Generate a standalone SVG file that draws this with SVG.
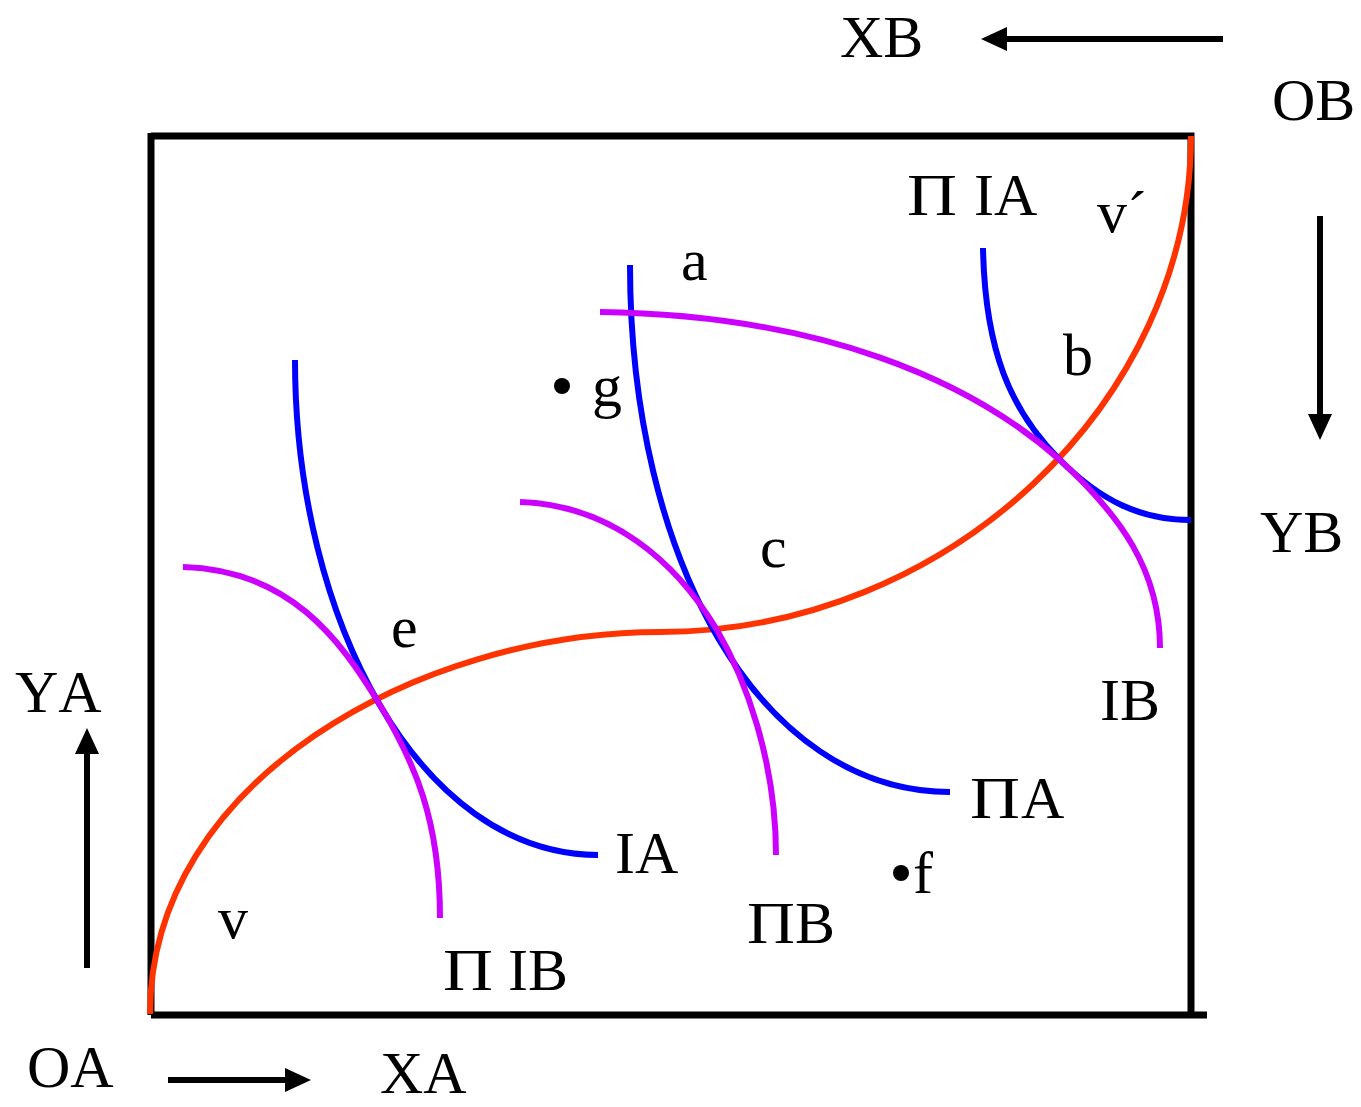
<svg xmlns="http://www.w3.org/2000/svg" width="1361" height="1107" viewBox="0 0 1361 1107">
<style>
.t{font-family:"Liberation Serif","Times New Roman",serif;font-size:60px;fill:#000;font-kerning:none}
.box{stroke:#000;stroke-width:7;fill:none}
.ax{stroke:#000;stroke-width:6;fill:none}
.red{stroke:#FF3300;stroke-width:6;fill:none}
.blue{stroke:#0000FF;stroke-width:6;fill:none}
.pur{stroke:#CC00FF;stroke-width:6;fill:none}
</style>
<defs>
<marker id="ah" markerUnits="userSpaceOnUse" markerWidth="26" markerHeight="24" refX="1" refY="12" orient="auto">
<path d="M0,0 L26,12 L0,24 z" fill="#000"/>
</marker>
</defs>
<g id="box">
<path class="box" d="M151,136 H1191 V1015 M151,133 V1015 M151,1015 H1207"/>
</g>
<g id="connectors">
<path class="ax" d="M1223,39 H1006" marker-end="url(#ah)"/>
<path class="ax" d="M1320,216 V415" marker-end="url(#ah)"/>
<path class="ax" d="M87,968 V753" marker-end="url(#ah)"/>
<path class="ax" d="M168,1080 H286" marker-end="url(#ah)"/>
</g>
<g id="contract-curve">
<path class="red" d="M150,1014 C150,780 420,632 660,632 C950,632 1191,400 1191,136"/>
</g>
<g id="curve-IA"><path class="blue" d="M295,360 C295,620 420,855 598,855"/></g>
<g id="curve-PiA"><path class="blue" d="M630,265 C630,560 760,792 950,792"/></g>
<g id="curve-PiIA"><path class="blue" d="M983,248 C985,350 1010,410 1060,460 C1100,500 1140,520 1191,520"/></g>
<g id="curve-IB"><path class="pur" d="M600,312 C820,315 970,380 1060,460 C1120,515 1160,570 1160,648"/></g>
<g id="curve-PiB"><path class="pur" d="M520,502 C610,505 675,560 717,630 C745,678 776,760 776,855"/></g>
<g id="curve-PiIB"><path class="pur" d="M183,567 C290,570 340,640 377,700 C415,762 440,820 440,918"/></g>
<g id="point-g"><circle cx="562" cy="386" r="8" fill="#000"/><text class="t" x="592" y="406">g</text></g>
<g id="point-f"><circle cx="901" cy="873" r="8" fill="#000"/><text class="t" x="913" y="893">f</text></g>
<g id="labels">
<text class="t" x="840" y="57">XB</text>
<text class="t" x="1272" y="120">OB</text>
<g id="label-PiIA"><text class="t" x="907" y="215" textLength="50" lengthAdjust="spacingAndGlyphs">Π</text><text class="t" x="974" y="215">IA</text></g>
<text class="t" x="1097" y="232">v´</text>
<text class="t" x="681" y="280">a</text>
<text class="t" x="1063" y="375">b</text>
<text class="t" x="760" y="567">c</text>
<text class="t" x="391" y="647">e</text>
<text class="t" x="1260" y="552">YB</text>
<text class="t" x="1100" y="720">IB</text>
<text class="t" x="15" y="712">YA</text>
<g id="label-PiA"><text class="t" x="970" y="818" textLength="50" lengthAdjust="spacingAndGlyphs">Π</text><text class="t" x="1021" y="818">A</text></g>
<text class="t" x="615" y="873">IA</text>
<g id="label-PiB"><text class="t" x="747" y="943" textLength="48" lengthAdjust="spacingAndGlyphs">Π</text><text class="t" x="795" y="943">B</text></g>
<text class="t" x="218" y="938">v</text>
<g id="label-PiIB"><text class="t" x="443" y="990" textLength="50" lengthAdjust="spacingAndGlyphs">Π</text><text class="t" x="508" y="990">IB</text></g>
<text class="t" x="27" y="1087">OA</text>
<text class="t" x="380" y="1093">XA</text>
</g>
</svg>
